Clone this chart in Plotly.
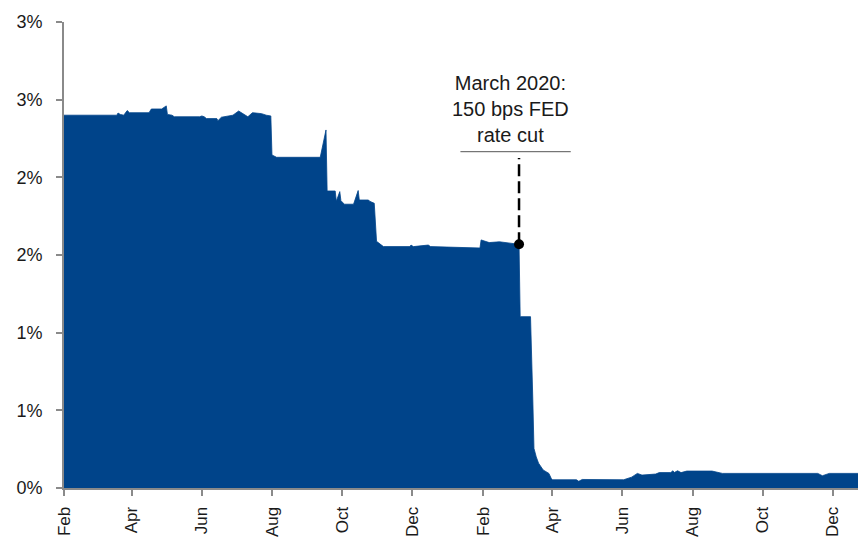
import plotly.graph_objects as go

# Daily rate series (%), Feb 2019 - Dec 2020
dates = [
    "2019-02-01", "2019-03-19", "2019-03-20", "2019-03-22", "2019-03-25", "2019-03-28",
    "2019-03-30", "2019-04-16", "2019-04-18", "2019-04-27", "2019-05-01", "2019-05-02",
    "2019-05-06", "2019-05-08", "2019-05-30", "2019-06-01", "2019-06-03", "2019-06-05",
    "2019-06-14", "2019-06-15", "2019-06-18", "2019-06-28", "2019-07-03", "2019-07-07",
    "2019-07-11", "2019-07-15", "2019-07-23", "2019-07-27", "2019-07-31", "2019-08-01",
    "2019-08-05", "2019-09-12", "2019-09-17", "2019-09-18", "2019-09-25", "2019-09-26",
    "2019-09-29", "2019-09-30", "2019-10-03", "2019-10-11", "2019-10-15", "2019-10-16",
    "2019-10-24", "2019-10-25", "2019-10-29", "2019-10-31", "2019-11-04", "2019-11-06",
    "2019-11-29", "2019-11-30", "2019-12-02", "2019-12-15", "2019-12-17", "2020-01-11",
    "2020-01-29", "2020-01-30", "2020-02-06", "2020-02-15", "2020-02-21", "2020-03-03",
    "2020-03-04", "2020-03-13", "2020-03-15", "2020-03-16", "2020-03-18", "2020-03-20",
    "2020-03-24", "2020-03-29", "2020-03-31", "2020-04-01", "2020-04-22", "2020-04-24",
    "2020-04-27", "2020-06-02", "2020-06-09", "2020-06-14", "2020-06-18", "2020-06-30",
    "2020-07-03", "2020-07-13", "2020-07-15", "2020-07-16", "2020-07-19", "2020-07-22",
    "2020-07-27", "2020-08-18", "2020-08-27", "2020-11-18", "2020-11-22", "2020-11-28",
    "2020-12-23",
]
rates = [
    2.400, 2.400, 2.414, 2.405, 2.400, 2.430,
    2.416, 2.416, 2.440, 2.440, 2.460, 2.405,
    2.400, 2.390, 2.390, 2.395, 2.390, 2.378,
    2.378, 2.365, 2.387, 2.400, 2.427, 2.410,
    2.390, 2.416, 2.410, 2.400, 2.395, 2.144,
    2.129, 2.129, 2.305, 1.912, 1.912, 1.846,
    1.908, 1.850, 1.827, 1.827, 1.915, 1.854,
    1.854, 1.846, 1.833, 1.588, 1.564, 1.554,
    1.554, 1.564, 1.554, 1.564, 1.554, 1.550,
    1.545, 1.597, 1.580, 1.585, 1.580, 1.569,
    1.103, 1.103, 0.567, 0.255, 0.200, 0.160,
    0.116, 0.094, 0.062, 0.053, 0.053, 0.043,
    0.055, 0.053, 0.070, 0.094, 0.083, 0.090,
    0.099, 0.099, 0.111, 0.099, 0.111, 0.099,
    0.109, 0.109, 0.094, 0.094, 0.079, 0.094,
    0.094,
]

# y-axis ticks (labels rounded to whole percent)
y_tickvals = [0, 0.5, 1.0, 1.5, 2.0, 2.5, 3.0]
y_ticktext = ["0%", "1%", "1%", "2%", "2%", "3%", "3%"]

# Fed cut callout
cut_date = "2020-03-03"
cut_label = "March 2020:<br>150 bps FED<br>rate cut"

NAVY = "#00448A"
AXIS = "#8A8A8A"
TEXT = "#1A1A1A"
FONT = "Liberation Sans, Arial, sans-serif"

cut_value = rates[dates.index(cut_date)]

fig = go.Figure()
fig.add_trace(go.Scatter(
    x=dates, y=rates, mode="lines", fill="tozeroy",
    fillcolor=NAVY, line=dict(color=NAVY, width=0.8),
    hoverinfo="x+y", showlegend=False,
))

# dashed leader from the label down to the point on the series
fig.add_shape(type="line", xref="x", yref="y",
              x0=cut_date, x1=cut_date, y0=cut_value, y1=2.125,
              line=dict(color="black", width=2.5, dash="12px,5px"))
fig.add_shape(type="line", xref="x", yref="y",
              x0="2020-01-12", x1="2020-04-17", y0=2.165, y1=2.165,
              line=dict(color="#555555", width=1))
fig.add_trace(go.Scatter(
    x=[cut_date], y=[cut_value], mode="markers",
    marker=dict(color="black", size=10), showlegend=False, hoverinfo="skip",
))
fig.add_annotation(
    x="2020-02-25", y=2.19, xref="x", yref="y",
    text=cut_label, showarrow=False, xanchor="center", yanchor="bottom",
    align="center", font=dict(family=FONT, size=20, color=TEXT),
)

fig.update_layout(
    width=858, height=538,
    margin=dict(l=64, r=0, t=22, b=50),
    paper_bgcolor="white", plot_bgcolor="white",
    font=dict(family=FONT, size=18, color=TEXT),
    showlegend=False,
)
fig.update_xaxes(
    range=["2019-02-01", "2020-12-23"],
    tick0="2019-02-01", dtick="M2", tickformat="%b",
    tickangle=-90, ticks="outside", ticklen=6, tickwidth=1.5, tickcolor=AXIS,
    showline=True, linecolor=AXIS, linewidth=2, showgrid=False, zeroline=False,
    tickfont=dict(family=FONT, size=17, color=TEXT), ticklabelstandoff=4,
    automargin=False,
)
fig.update_yaxes(
    range=[0, 3], tickvals=y_tickvals, ticktext=y_ticktext,
    ticks="outside", ticklen=6, tickwidth=1.5, tickcolor=AXIS,
    showline=True, linecolor=AXIS, linewidth=2, showgrid=False, zeroline=False,
    tickfont=dict(family=FONT, size=18, color=TEXT), ticklabelstandoff=10,
    automargin=False,
)

fig.write_html("out.html")
